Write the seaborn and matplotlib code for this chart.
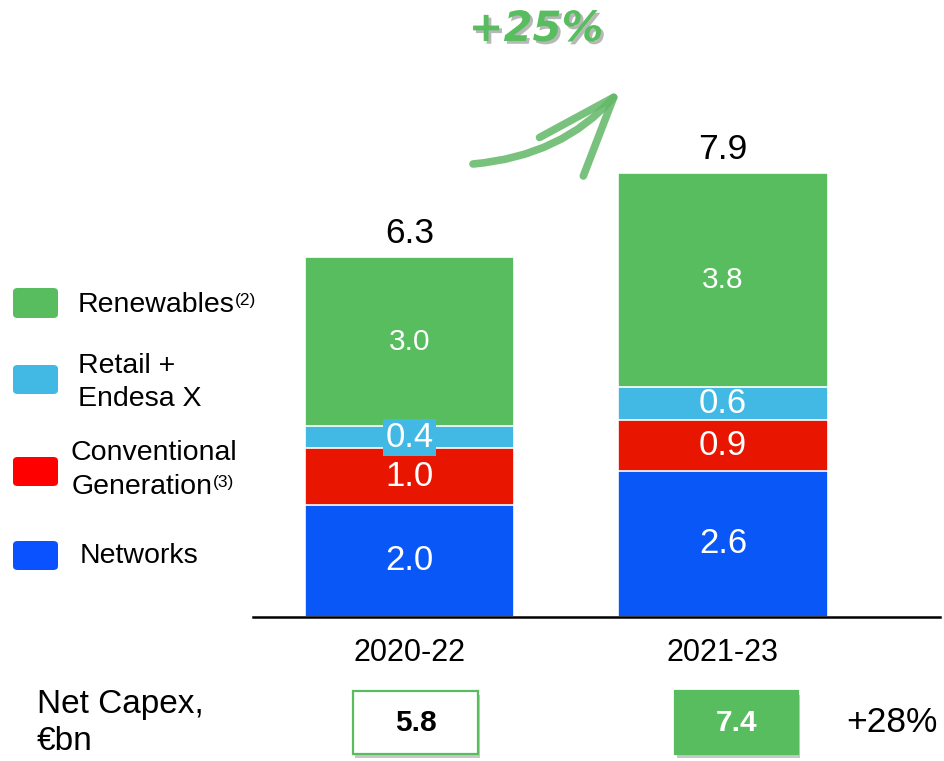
import matplotlib
matplotlib.use("Agg")
import matplotlib.pyplot as plt
import matplotlib.patheffects as pe
from matplotlib.patches import FancyBboxPatch, Rectangle, FancyArrowPatch
import numpy as np
import pandas as pd
import seaborn as sns

# ---- data ----
periods = ["2020-22", "2021-23"]
segments = ["Networks", "Conventional Generation", "Retail + Endesa X", "Renewables"]
networks = [2.0, 2.6]
conventional = [1.0, 0.9]
retail = [0.4, 0.6]
renewables = [3.0, 3.8]
totals = ["6.3", "7.9"]
net_capex = ["5.8", "7.4"]
net_capex_growth = "+28%"
total_growth = "+25%"

colors = {"Networks": "#0A57F8", "Conventional Generation": "#E81600",
          "Retail + Endesa X": "#42B8E5", "Renewables": "#58BD5E"}
legend_colors = {"Networks": "#0A52FF", "Conventional Generation": "#FF0000",
                 "Retail + Endesa X": "#42B8E5", "Renewables": "#58BD5E"}

sns.set_theme(style="white")
plt.rcParams["font.family"] = ["Liberation Sans", "DejaVu Sans"]
plt.rcParams["text.color"] = "black"

W, H = 945, 761
fig = plt.figure(figsize=(W / 100, H / 100), dpi=100)
def fx(x): return x / W
def fy(y): return 1 - y / H

ax = fig.add_axes([fx(253), 144 / H, (940 - 253) / W, 617 / H])

df = pd.DataFrame({"period": periods, "Networks": networks,
                   "Conventional Generation": conventional,
                   "Retail + Endesa X": retail, "Renewables": renewables})
cum = df[segments].cumsum(axis=1)

# draw from tallest cumulative down so segments overlay
for seg in reversed(segments):
    sns.barplot(x=df["period"], y=cum[seg], color=colors[seg], width=0.667,
                edgecolor="white", linewidth=1.2, saturation=1, ax=ax, order=periods)

ax.set_xlim(-0.4992, 1 + 217 / 313.5)
ax.set_ylim(0, 617 / 56.2)
ax.set_xlabel("")
ax.set_ylabel("")
ax.set_yticks([])
sns.despine(ax=ax, left=True, top=True, right=True)
ax.spines["bottom"].set_color("black")
ax.spines["bottom"].set_linewidth(1.8)
ax.tick_params(axis="x", length=0, pad=15, labelsize=22, colors="black")

# segment labels
for i in range(len(periods)):
    base = 0
    for seg in segments:
        v = df[seg][i]
        mid = base + v / 2
        size = 21.5 if seg == "Renewables" else 25
        kw = {}
        if seg == "Retail + Endesa X" and i == 0:
            kw["bbox"] = dict(boxstyle="square,pad=0.06", fc=colors[seg], ec="none")
        ax.text(i, mid, f"{v:.1f}", ha="center", va="center", color="white",
                fontsize=size, **kw)
        base += v
    ax.annotate(totals[i], xy=(i, base), xytext=(0, 5), textcoords="offset points",
                ha="center", va="bottom", fontsize=25.5, color="black")

# legend (manual)
leg = [("Renewables", 288, 318), ("Retail + Endesa X", 365, 394),
       ("Conventional Generation", 457, 486), ("Networks", 541, 570)]
for seg, y0, y1 in leg:
    p = FancyBboxPatch((fx(13), fy(y1)), fx(45), (y1 - y0) / H,
                       boxstyle="round,pad=0,rounding_size=0.005",
                       transform=fig.transFigure, fc=legend_colors[seg], ec="none")
    fig.patches.append(p)

lfs = 20.5
t = fig.text(fx(78), fy(305), "Renewables", fontsize=lfs, va="center", ha="left")
ax.annotate("(2)", xy=(1.0, 0.98), xycoords=t, va="top", ha="left", fontsize=12.5,
            annotation_clip=False)
fig.text(fx(78), fy(366), "Retail +", fontsize=lfs, va="center", ha="left")
fig.text(fx(78), fy(399), "Endesa X", fontsize=lfs, va="center", ha="left")
fig.text(fx(71), fy(453), "Conventional", fontsize=lfs, va="center", ha="left")
t2 = fig.text(fx(72), fy(487), "Generation", fontsize=lfs, va="center", ha="left")
ax.annotate("(3)", xy=(1.0, 0.98), xycoords=t2, va="top", ha="left", fontsize=12.5,
            annotation_clip=False)
fig.text(fx(80), fy(556), "Networks", fontsize=lfs, va="center", ha="left")

# arrow and growth label
arr = FancyArrowPatch((fx(473), fy(164)), (fx(621), fy(89)),
                      transform=fig.transFigure,
                      connectionstyle="arc3,rad=0.2",
                      arrowstyle="->,head_length=1.9,head_width=0.7",
                      mutation_scale=30, lw=5.5, color="#62B868", alpha=0.85,
                      shrinkA=0, shrinkB=0, capstyle="round", joinstyle="round")
fig.patches.append(arr)
fig.text(fx(536), fy(29), total_growth, fontsize=30, fontweight="bold",
         fontstyle="italic", color="#58BD5E", ha="center", va="center",
         family=["DejaVu Sans"],
         path_effects=[pe.withSimplePatchShadow(offset=(2, -2), shadow_rgbFace="#888888",
                                                alpha=0.6)])

# Net capex row
fig.text(fx(37), fy(704), "Net Capex,", fontsize=24, ha="left", va="center")
fig.text(fx(37), fy(741), "€bn", fontsize=24, ha="left", va="center")

boxes = [(353, 478, "white", "#58BD5E", "black"), (675, 798, "#58BD5E", "#58BD5E", "white")]
for (x0, x1, fc, ec, tc), val in zip(boxes, net_capex):
    sh = Rectangle((fx(x0 + 2), fy(758)), fx(x1 - x0), (754 - 691) / H,
                   transform=fig.transFigure, fc="#9a9a9a", ec="none", alpha=0.55)
    fig.patches.append(sh)
    r = Rectangle((fx(x0), fy(754)), fx(x1 - x0), (754 - 691) / H,
                  transform=fig.transFigure, fc=fc, ec=ec, lw=1.6)
    fig.patches.append(r)
    fig.text(fx((x0 + x1) / 2), fy(723), val, fontsize=21.5, fontweight="bold",
             color=tc, ha="center", va="center")
fig.text(fx(892), fy(722), net_capex_growth, fontsize=25.5, ha="center", va="center")

fig.savefig("out.png", dpi=100)
